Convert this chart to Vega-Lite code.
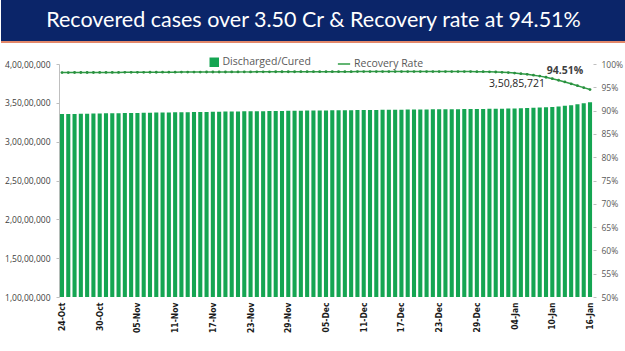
{
  "$schema": "https://vega.github.io/schema/vega-lite/v6.json",
  "padding": 0,
  "background": "white",
  "spacing": 14,
  "config": {"view": {"stroke": null}},
  "resolve": {"legend": {"fill": "independent", "stroke": "independent"}},
  "vconcat": [
    {
      "width": 625,
      "height": 42,
      "view": {"fill": "#0b2569", "stroke": null},
      "data": {"values": [{"t": "Recovered cases over 3.50 Cr & Recovery rate at 94.51%"}]},
      "layer": [
        {
          "mark": {"type": "text", "color": "white", "font": "Lato", "fontSize": 21.5, "baseline": "middle", "align": "center"},
          "encoding": {"text": {"field": "t"}}
        },
        {
          "mark": {"type": "rule", "stroke": "#e3886a", "strokeWidth": 2},
          "encoding": {"y": {"datum": 0, "type": "quantitative", "scale": {"domain": [0, 1]}, "axis": null}}
        }
      ]
    },
    {
      "spacing": 0,
      "resolve": {"legend": {"fill": "independent", "stroke": "independent"}},
      "hconcat": [
        {
          "width": 3,
          "height": 10,
          "data": {"values": [{}]},
          "mark": {"type": "text", "text": ""},
          "encoding": {}
        },
        {
          "width": 534,
          "height": 233,
          "data": {"values": [
            {"d": "24-Oct", "cured": 33548605, "rate": 98.16},
            {"d": "25-Oct", "cured": 33563421, "rate": 98.16},
            {"d": "26-Oct", "cured": 33577150, "rate": 98.17},
            {"d": "27-Oct", "cured": 33590166, "rate": 98.17},
            {"d": "28-Oct", "cured": 33604000, "rate": 98.18},
            {"d": "29-Oct", "cured": 33618580, "rate": 98.18},
            {"d": "30-Oct", "cured": 33632000, "rate": 98.19},
            {"d": "31-Oct", "cured": 33644200, "rate": 98.19},
            {"d": "01-Nov", "cured": 33656500, "rate": 98.20},
            {"d": "02-Nov", "cured": 33669100, "rate": 98.20},
            {"d": "03-Nov", "cured": 33681250, "rate": 98.21},
            {"d": "04-Nov", "cured": 33693300, "rate": 98.21},
            {"d": "05-Nov", "cured": 33705600, "rate": 98.22},
            {"d": "06-Nov", "cured": 33717900, "rate": 98.22},
            {"d": "07-Nov", "cured": 33729600, "rate": 98.23},
            {"d": "08-Nov", "cured": 33741000, "rate": 98.23},
            {"d": "09-Nov", "cured": 33752400, "rate": 98.24},
            {"d": "10-Nov", "cured": 33764200, "rate": 98.25},
            {"d": "11-Nov", "cured": 33775600, "rate": 98.25},
            {"d": "12-Nov", "cured": 33787500, "rate": 98.26},
            {"d": "13-Nov", "cured": 33799900, "rate": 98.26},
            {"d": "14-Nov", "cured": 33811700, "rate": 98.27},
            {"d": "15-Nov", "cured": 33823100, "rate": 98.27},
            {"d": "16-Nov", "cured": 33834500, "rate": 98.28},
            {"d": "17-Nov", "cured": 33846000, "rate": 98.28},
            {"d": "18-Nov", "cured": 33857200, "rate": 98.29},
            {"d": "19-Nov", "cured": 33868300, "rate": 98.29},
            {"d": "20-Nov", "cured": 33879000, "rate": 98.30},
            {"d": "21-Nov", "cured": 33889400, "rate": 98.30},
            {"d": "22-Nov", "cured": 33900300, "rate": 98.31},
            {"d": "23-Nov", "cured": 33910700, "rate": 98.31},
            {"d": "24-Nov", "cured": 33920900, "rate": 98.32},
            {"d": "25-Nov", "cured": 33931300, "rate": 98.32},
            {"d": "26-Nov", "cured": 33941600, "rate": 98.32},
            {"d": "27-Nov", "cured": 33951400, "rate": 98.33},
            {"d": "28-Nov", "cured": 33961200, "rate": 98.33},
            {"d": "29-Nov", "cured": 33971000, "rate": 98.34},
            {"d": "30-Nov", "cured": 33980500, "rate": 98.34},
            {"d": "01-Dec", "cured": 33990100, "rate": 98.35},
            {"d": "02-Dec", "cured": 33999800, "rate": 98.35},
            {"d": "03-Dec", "cured": 34009000, "rate": 98.35},
            {"d": "04-Dec", "cured": 34017900, "rate": 98.35},
            {"d": "05-Dec", "cured": 34026500, "rate": 98.36},
            {"d": "06-Dec", "cured": 34034900, "rate": 98.36},
            {"d": "07-Dec", "cured": 34043500, "rate": 98.36},
            {"d": "08-Dec", "cured": 34052200, "rate": 98.36},
            {"d": "09-Dec", "cured": 34060800, "rate": 98.36},
            {"d": "10-Dec", "cured": 34069200, "rate": 98.37},
            {"d": "11-Dec", "cured": 34077800, "rate": 98.37},
            {"d": "12-Dec", "cured": 34085600, "rate": 98.37},
            {"d": "13-Dec", "cured": 34093000, "rate": 98.37},
            {"d": "14-Dec", "cured": 34100400, "rate": 98.37},
            {"d": "15-Dec", "cured": 34107900, "rate": 98.37},
            {"d": "16-Dec", "cured": 34115400, "rate": 98.38},
            {"d": "17-Dec", "cured": 34123100, "rate": 98.38},
            {"d": "18-Dec", "cured": 34130600, "rate": 98.38},
            {"d": "19-Dec", "cured": 34137900, "rate": 98.38},
            {"d": "20-Dec", "cured": 34145100, "rate": 98.38},
            {"d": "21-Dec", "cured": 34152400, "rate": 98.38},
            {"d": "22-Dec", "cured": 34159700, "rate": 98.38},
            {"d": "23-Dec", "cured": 34166900, "rate": 98.38},
            {"d": "24-Dec", "cured": 34174300, "rate": 98.38},
            {"d": "25-Dec", "cured": 34181600, "rate": 98.38},
            {"d": "26-Dec", "cured": 34188400, "rate": 98.38},
            {"d": "27-Dec", "cured": 34195500, "rate": 98.38},
            {"d": "28-Dec", "cured": 34202400, "rate": 98.37},
            {"d": "29-Dec", "cured": 34210100, "rate": 98.36},
            {"d": "30-Dec", "cured": 34218500, "rate": 98.35},
            {"d": "31-Dec", "cured": 34227700, "rate": 98.32},
            {"d": "01-Jan", "cured": 34238800, "rate": 98.28},
            {"d": "02-Jan", "cured": 34250300, "rate": 98.22},
            {"d": "03-Jan", "cured": 34263900, "rate": 98.15},
            {"d": "04-Jan", "cured": 34279200, "rate": 98.05},
            {"d": "05-Jan", "cured": 34297600, "rate": 97.92},
            {"d": "06-Jan", "cured": 34321800, "rate": 97.78},
            {"d": "07-Jan", "cured": 34351500, "rate": 97.60},
            {"d": "08-Jan", "cured": 34385100, "rate": 97.40},
            {"d": "09-Jan", "cured": 34425800, "rate": 97.15},
            {"d": "10-Jan", "cured": 34474900, "rate": 96.85},
            {"d": "11-Jan", "cured": 34534200, "rate": 96.52},
            {"d": "12-Jan", "cured": 34615900, "rate": 96.15},
            {"d": "13-Jan", "cured": 34700900, "rate": 95.75},
            {"d": "14-Jan", "cured": 34814100, "rate": 95.35},
            {"d": "15-Jan", "cured": 34947400, "rate": 94.93},
            {"d": "16-Jan", "cured": 35085721, "rate": 94.51}
          ]},
          "encoding": {
            "x": {
              "field": "d", "type": "ordinal", "sort": null,
              "scale": {"paddingInner": 0.35, "paddingOuter": 0.15},
              "axis": {
                "title": null, "domain": false, "ticks": false,
                "values": ["24-Oct", "30-Oct", "05-Nov", "11-Nov", "17-Nov", "23-Nov", "29-Nov", "05-Dec", "11-Dec", "17-Dec", "23-Dec", "29-Dec", "04-Jan", "10-Jan", "16-Jan"],
                "labelAngle": -90, "labelAlign": "right", "labelBaseline": "middle",
                "labelFont": "DejaVu Sans Condensed", "labelFontWeight": "bold", "labelFontSize": 8.5, "labelColor": "#1a1a1a", "labelPadding": 5
              }
            }
          },
          "layer": [
            {
              "encoding": {
                "y": {
                  "field": "cured", "type": "quantitative",
                  "scale": {"domain": [10000000, 40000000], "zero": false},
                  "axis": {
                    "title": null, "grid": false, "values": [10000000, 15000000, 20000000, 25000000, 30000000, 35000000, 40000000],
                    "labelExpr": "floor(datum.value/1e7) + ',' + format(floor(datum.value/1e5)%100,'02d') + ',00,000'",
                    "domain": true, "domainColor": "#bfbfbf", "ticks": true, "tickSize": 3, "tickColor": "#bfbfbf",
                    "labelFont": "Open Sans", "labelFontSize": 8.5, "labelColor": "#404040", "labelPadding": 6
                  }
                }
              },
              "layer": [
                {
                  "mark": {"type": "bar"},
                  "encoding": {
                    "y2": {"datum": 10000000},
                    "fill": {
                      "datum": "Discharged/Cured", "type": "nominal",
                      "scale": {"range": ["#15a552"]},
                      "legend": {"title": null, "orient": "none", "legendX": 150, "legendY": -7, "padding": 0, "symbolType": "square", "symbolSize": 90, "symbolStrokeWidth": 0, "labelFont": "Open Sans", "labelFontSize": 10.5, "labelColor": "#595959", "labelOffset": 3}
                    }
                  }
                },
                {
                  "transform": [{"filter": "datum.d == '16-Jan'"}],
                  "mark": {"type": "text", "text": "3,50,85,721", "font": "Open Sans", "fontSize": 10.5, "color": "#262626", "dx": -73, "dy": -18, "align": "center", "baseline": "middle"},
                  "encoding": {}
                }
              ]
            },
            {
              "encoding": {
                "y": {
                  "field": "rate", "type": "quantitative",
                  "scale": {"domain": [50, 100], "zero": false},
                  "axis": {
                    "orient": "right", "title": null, "grid": false, "values": [50, 55, 60, 65, 70, 75, 80, 85, 90, 95, 100],
                    "labelExpr": "datum.value + '%'",
                    "domain": false, "ticks": true, "tickSize": 3, "tickColor": "#bfbfbf",
                    "labelFont": "Open Sans", "labelFontSize": 8.5, "labelColor": "#595959", "labelPadding": 5
                  }
                }
              },
              "layer": [
                {
                  "mark": {"type": "line", "strokeWidth": 1.5},
                  "encoding": {
                    "stroke": {
                      "datum": "Recovery Rate", "type": "nominal",
                      "scale": {"range": ["#2f9c45"]},
                      "legend": {"title": null, "orient": "none", "legendX": 278, "legendY": -7, "padding": 0, "symbolType": "stroke", "symbolSize": 150, "symbolStrokeWidth": 1.5, "labelFont": "Open Sans", "labelFontSize": 10.5, "labelColor": "#595959", "labelOffset": 3}
                    }
                  }
                },
                {
                  "mark": {"type": "point", "filled": true, "size": 8, "color": "#2a8f3f", "opacity": 1},
                  "encoding": {}
                },
                {
                  "transform": [{"filter": "datum.d == '16-Jan'"}],
                  "mark": {"type": "text", "text": "94.51%", "font": "Open Sans", "fontSize": 10.5, "fontWeight": "bold", "color": "#404040", "dx": -25, "dy": -19, "align": "center", "baseline": "middle"},
                  "encoding": {}
                }
              ]
            }
          ],
          "resolve": {"scale": {"y": "independent"}}
        }
      ]
    }
  ]
}
